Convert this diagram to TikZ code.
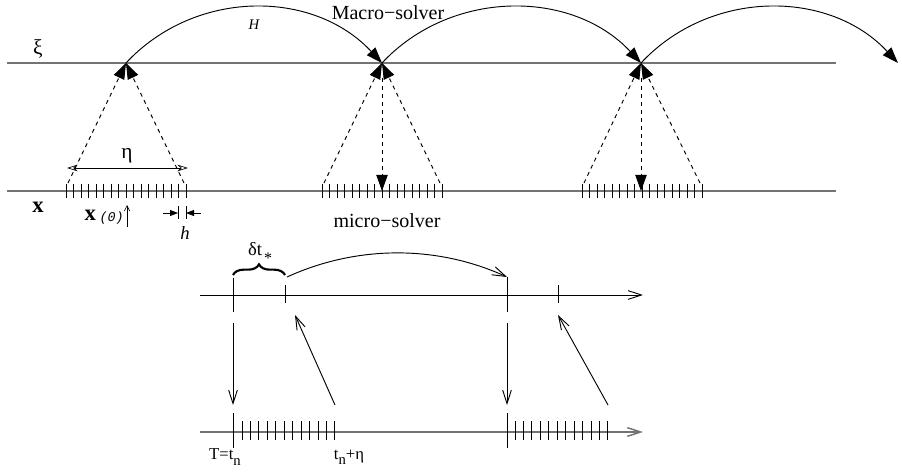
\documentclass[tikz,border=0pt]{standalone}
\usepackage{fontspec}
\setmainfont{Liberation Serif}
\setmonofont{Liberation Mono}
\usetikzlibrary{arrows.meta,decorations.pathreplacing}
\begin{document}
\begin{tikzpicture}[x=0.75pt,y=-0.75pt,
  axis/.style={draw=black!55, line width=1.1pt},
  thin/.style={line width=0.7pt},
  bigtip/.style={-{Triangle[length=12pt,width=8.5pt]}},
  macro/.style={line width=0.7pt, bigtip},
  dsh/.style={line width=0.7pt, dash pattern=on 3pt off 3pt},
  barb/.style={line width=0.7pt, -{Straight Barb[length=10pt,width=6.5pt]}},
  big/.style={inner sep=0pt, font=\fontsize{15}{17}\selectfont},
  small/.style={inner sep=0pt, font=\fontsize{12.5}{14}\selectfont}]
\useasboundingbox (0,0) rectangle (902,473);

% ---------- upper diagram ----------
\coordinate (XiL) at (7,63);  \coordinate (XiR) at (836,63);
\coordinate (XL) at (7,191);  \coordinate (XR) at (836,191);
\draw[axis] (XiL) -- (XiR);
\draw[axis] (XL) -- (XR);

\coordinate (P1) at (126,63);
\coordinate (P2) at (382,63);
\coordinate (P3) at (641,63);
\coordinate (P4) at (898,63);
\draw[macro] (P1) .. controls +(69,-74) and +(-69,-74) .. (P2);
\draw[macro] (P2) .. controls +(69,-74) and +(-69,-74) .. (P3);
\draw[macro] (P3) .. controls +(69,-74) and +(-69,-74) .. (P4);

% tick groups
\foreach \c in {126,382,642}{
  \foreach \i in {0,...,16}{
    \draw[thin] ({\c-60+7.5*\i},184) -- ({\c-60+7.5*\i},198);
  }
}

% dashed projections
\coordinate (L1) at (68,183);  \coordinate (R1) at (184,183);
\coordinate (L2) at (324,183); \coordinate (R2) at (440,183);
\coordinate (L3) at (584,183); \coordinate (R3) at (700,183);
\coordinate (B2) at (382,191); \coordinate (B3) at (641,191);
\draw[dsh, bigtip] (L1) -- (P1);
\draw[dsh, bigtip] (R1) -- (P1);
\draw[dsh, bigtip] (L2) -- (P2);
\draw[dsh, bigtip] (R2) -- (P2);
\draw[dsh, bigtip] (L3) -- (P3);
\draw[dsh, bigtip] (R3) -- (P3);
\draw[dsh, shorten <=11pt, bigtip] (P2) -- (B2);
\draw[dsh, shorten <=11pt, bigtip] (P3) -- (B3);

% eta span
\coordinate (EL) at (67,168); \coordinate (ER) at (188,168);
\draw[line width=0.5pt, {Stealth[open,length=8pt,width=5pt]}-{Stealth[open,length=8pt,width=5pt]}] (EL) -- (ER);
\node[inner sep=0pt, font=\fontsize{16}{17}\selectfont] (eta) at (127,156) {η};

% x(0) arrow
\coordinate (X0a) at (127,227); \coordinate (X0b) at (127,205);
\draw[line width=0.5pt, -{Straight Barb[length=4pt,width=4pt]}] (X0a) -- (X0b);
\node[inner sep=0pt, anchor=east] (x0) at (124,217)
  {\fontsize{17}{17}\selectfont\textbf{x}\,\raisebox{-1pt}{\fontsize{10}{10}\selectfont\ttfamily\itshape (0)}};

% h mark
\draw[line width=0.6pt] (178,206) -- (178,219);
\draw[line width=0.6pt] (186,206) -- (186,219);
\coordinate (HL) at (163,213); \coordinate (HLt) at (178,213);
\coordinate (HR) at (201,213); \coordinate (HRt) at (186,213);
\draw[line width=0.6pt, -{Triangle[length=6pt,width=4.5pt]}] (HL) -- (HLt);
\draw[line width=0.6pt, -{Triangle[length=6pt,width=4.5pt]}] (HR) -- (HRt);
\node[inner sep=0pt, font=\fontsize{14}{14}\selectfont\itshape] (h) at (185,233) {h};

% labels
\node[inner sep=0pt, font=\fontsize{16}{17}\selectfont] (xi) at (38,49) {ξ};
\node[inner sep=0pt, font=\fontsize{17}{17}\selectfont\bfseries] (x) at (38,207) {x};
\node[big] (macro) at (388,13) {Macro−solver};
\node[big] (micro) at (387,221) {micro−solver};
\node[inner sep=0pt, font=\fontsize{11}{11}\selectfont\itshape] (H) at (254,25) {H};

% ---------- lower diagram ----------
\coordinate (UL) at (200,295); \coordinate (UR) at (643,295);
\coordinate (DL) at (200,432); \coordinate (DR) at (643,432);
\draw[barb] (UL) -- (UR);
\draw[barb, draw=black!55, line width=1.1pt] (DL) -- (DR);

% vertical at T
\draw[thin] (233,278) -- (233,312);
\coordinate (Ta) at (233,323); \coordinate (Tb) at (233,405);
\draw[barb] (Ta) -- (Tb);
\draw[thin] (233,413) -- (233,448);
% vertical at second point
\draw[thin] (507,277) -- (507,312);
\coordinate (Sa) at (507,323); \coordinate (Sb) at (507,405);
\draw[barb] (Sa) -- (Sb);
\draw[thin] (507,413) -- (507,448);

% small ticks on upper axis
\draw[thin] (285,285) -- (285,303);
\draw[thin] (558,285) -- (558,303);

% diagonal arrows
\coordinate (D1a) at (335,405); \coordinate (D1b) at (295,315);
\coordinate (D2a) at (608,405); \coordinate (D2b) at (558,315);
\draw[barb] (D1a) -- (D1b);
\draw[barb] (D2a) -- (D2b);

% arc
\coordinate (Ca) at (287,277); \coordinate (Cb) at (507,277);
\draw[barb] (Ca) .. controls +(70,-32) and +(-70,-32) .. (Cb);

% brace
\coordinate (BrL) at (233,275); \coordinate (BrR) at (285,275);
\draw[line width=1.6pt, decorate, decoration={brace, amplitude=8pt}] (BrL) -- (BrR);
\node[inner sep=0pt, font=\fontsize{14}{14}\selectfont] (dt) at (255,249) {δt};
\node[inner sep=0pt, font=\fontsize{12}{12}\selectfont] (star) at (268,258) {*};

% lower ticks
\foreach \s in {242,515}{
  \foreach \i in {0,...,11}{
    \draw[thin] ({\s+8.45*\i},421) -- ({\s+8.45*\i},440);
  }
}

% bottom labels
\node[small] (T) at (225,457) {T=t\raisebox{-4pt}{\fontsize{11}{11}\selectfont n}};
\node[small] (tn) at (349,457) {t\raisebox{-4pt}{\fontsize{11}{11}\selectfont n}+η};
\end{tikzpicture}
\end{document}
